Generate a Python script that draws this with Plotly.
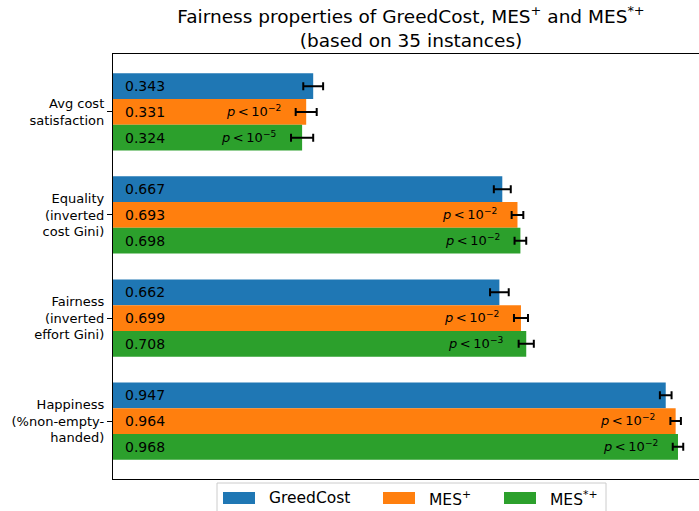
import plotly.graph_objects as go

# ── Data ──────────────────────────────────────────────────────────────────────
categories = [
    "Avg cost<br>satisfaction",
    "Equality<br>(inverted<br>cost Gini)",
    "Fairness<br>(inverted<br>effort Gini)",
    "Happiness<br>(%non-empty-<br>handed)",
]
series_names = ["GreedCost", "MES<sup>+</sup>", "MES<sup>*+</sup>"]
series_colors = ["#1f77b4", "#ff7f0e", "#2ca02c"]

greedcost = [0.343, 0.667, 0.662, 0.947]
mes_plus = [0.331, 0.693, 0.699, 0.964]
mes_star_plus = [0.324, 0.698, 0.708, 0.968]

greedcost_err = [0.017, 0.0145, 0.016, 0.010]
mes_plus_err = [0.018, 0.010, 0.012, 0.009]
mes_star_plus_err = [0.019, 0.010, 0.013, 0.009]

# p-value exponents (p < 10^k), None = no annotation
greedcost_p = [None, None, None, None]
mes_plus_p = [-2, -2, -2, -2]
mes_star_plus_p = [-5, -2, -3, -2]

values = [greedcost, mes_plus, mes_star_plus]
errors = [greedcost_err, mes_plus_err, mes_star_plus_err]
pvals = [greedcost_p, mes_plus_p, mes_star_plus_p]

FONT = "DejaVu Sans"
BAR_H = 0.25

# ── Figure ────────────────────────────────────────────────────────────────────
fig = go.Figure()
annotations = []

for s, (name, color, vals, errs, ps) in enumerate(zip(series_names, series_colors, values, errors, pvals)):
    fig.add_trace(go.Bar(
        x=vals,
        y=categories,
        orientation="h",
        name=name,
        marker=dict(color=color, line=dict(width=0)),
        error_x=dict(type="data", array=errs, color="black", thickness=2, width=4),
        showlegend=False,
    ))
    offset = (s - 1) * BAR_H
    for i, (v, e, p) in enumerate(zip(vals, errs, ps)):
        annotations.append(dict(
            x=0, y=i + offset, xref="x", yref="y",
            text=f"{v:.3f}", showarrow=False,
            xanchor="left", yanchor="middle", xshift=10,
            font=dict(family=FONT, size=14, color="black"),
        ))
        if p is not None:
            annotations.append(dict(
                x=v - e, y=i + offset, xref="x", yref="y",
                text=f"<i>p</i>\u2009&lt;\u200910<sup>\u2212{abs(p)}</sup>", showarrow=False,
                xanchor="right", yanchor="middle", xshift=-13, yshift=1,
                font=dict(family=FONT, size=13, color="black"),
            ))

# ── Manual legend (matplotlib style, partly cut off at the bottom) ────────────
L, T, W, H = 113, 54, 586, 425


def px_x(px):
    return (px - L) / W


def px_y(py):
    return (T + H - py) / H


shapes = [dict(
    type="rect", xref="paper", yref="paper",
    x0=px_x(217), x1=px_x(606), y0=px_y(520), y1=px_y(483),
    line=dict(color="#cccccc", width=1), fillcolor="rgba(255,255,255,0.8)",
    layer="above",
)]
patch_x = [223, 383, 504]
for name, color, xp in zip(series_names, series_colors, patch_x):
    shapes.append(dict(
        type="rect", xref="paper", yref="paper",
        x0=px_x(xp), x1=px_x(xp + 32), y0=px_y(504), y1=px_y(492),
        line=dict(width=0), fillcolor=color, layer="above",
    ))
    annotations.append(dict(
        x=px_x(xp + 44), y=px_y(498), xref="paper", yref="paper",
        text=name, showarrow=False, xanchor="left", yanchor="middle",
        font=dict(family=FONT, size=15.5, color="black"),
    ))

fig.update_layout(
    width=699, height=511,
    margin=dict(l=L, r=0, t=T, b=511 - T - H, pad=0),
    barmode="group", bargap=0.25, bargroupgap=0,
    plot_bgcolor="white", paper_bgcolor="white",
    font=dict(family=FONT, color="black"),
    title=dict(
        text="Fairness properties of GreedCost, MES<sup>+</sup> and MES<sup>*+</sup><br>(based on 35 instances)",
        x=411 / 699, xref="container", xanchor="center",
        y=0.955, yref="container", yanchor="top",
        font=dict(family=FONT, size=18.5, color="black"),
    ),
    annotations=annotations,
    shapes=shapes,
    showlegend=False,
)
fig.update_xaxes(
    range=[0, 1.004], showline=True, mirror=True, linecolor="black", linewidth=1.3,
    showticklabels=False, ticks="", showgrid=False, zeroline=False,
)
fig.update_yaxes(
    range=[3.5625, -0.5625], showline=True, linecolor="black", linewidth=1.3,
    ticks="outside", ticklen=5, tickcolor="black", tickwidth=1.3,
    tickfont=dict(family=FONT, size=13, color="black"),
    showgrid=False, zeroline=False,
)

fig.write_html(
    "out.html",
    config={"displayModeBar": False},
    post_script="document.body.style.margin='0';document.body.style.overflow='hidden';",
)
